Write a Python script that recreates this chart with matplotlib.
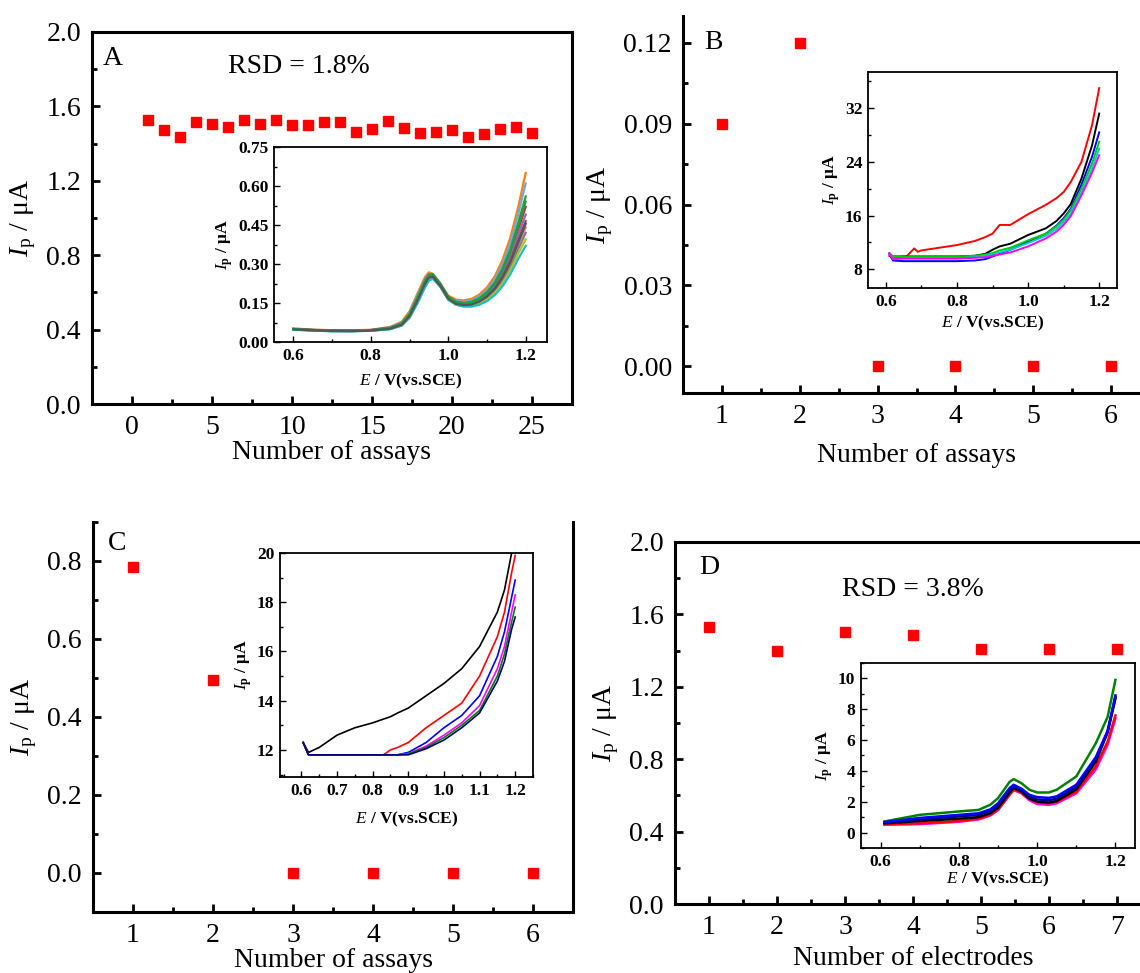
import matplotlib
matplotlib.use("Agg")
import matplotlib.pyplot as plt
from matplotlib.ticker import MultipleLocator, FormatStrFormatter

plt.rcParams["font.family"] = "Liberation Serif"
plt.rcParams["mathtext.fontset"] = "custom"
plt.rcParams["mathtext.rm"] = "Liberation Serif"
plt.rcParams["mathtext.it"] = "Liberation Serif:italic"
plt.rcParams["mathtext.bf"] = "Liberation Serif:bold"

W, H = 1140, 973

# ---- main panels: peak current vs. assay / electrode number ----
assays_a = list(range(1, 26))
ip_a = [1.528, 1.474, 1.436, 1.517, 1.506, 1.490, 1.526, 1.506, 1.528, 1.500,
        1.500, 1.515, 1.515, 1.463, 1.480, 1.520, 1.483, 1.456, 1.463, 1.474,
        1.438, 1.454, 1.480, 1.490, 1.456]

assays_b = [1, 2, 3, 4, 5, 6]
ip_b = [0.090, 0.120, 0.0, 0.0, 0.0, 0.0]

assays_c = [1, 2, 3, 4, 5, 6]
ip_c = [0.785, 0.495, 0.0, 0.0, 0.0, 0.0]

electrodes_d = [1, 2, 3, 4, 5, 6, 7]
ip_d = [1.530, 1.396, 1.503, 1.486, 1.407, 1.410, 1.410]

# ---- inset A: 25 repeated DPV scans (subset of traces) ----
E_a = [0.60, 0.65, 0.70, 0.75, 0.80, 0.85, 0.88, 0.90, 0.92, 0.94, 0.95, 0.96,
       0.98, 1.00, 1.02, 1.04, 1.06, 1.08, 1.10, 1.12, 1.14, 1.16, 1.18, 1.20]
scans_a = [
    [0.052, 0.048, 0.045, 0.045, 0.047, 0.058, 0.078, 0.118, 0.185, 0.250, 0.268, 0.262,
     0.220, 0.178, 0.163, 0.160, 0.166, 0.182, 0.210, 0.252, 0.315, 0.400, 0.515, 0.650],
    [0.051, 0.047, 0.044, 0.044, 0.046, 0.056, 0.075, 0.112, 0.178, 0.243, 0.262, 0.258,
     0.216, 0.172, 0.158, 0.154, 0.160, 0.175, 0.200, 0.240, 0.298, 0.378, 0.488, 0.610],
    [0.050, 0.046, 0.044, 0.044, 0.046, 0.055, 0.072, 0.108, 0.170, 0.236, 0.258, 0.262,
     0.225, 0.175, 0.155, 0.150, 0.155, 0.168, 0.192, 0.228, 0.282, 0.355, 0.455, 0.560],
    [0.050, 0.046, 0.044, 0.043, 0.045, 0.054, 0.070, 0.105, 0.165, 0.232, 0.255, 0.255,
     0.218, 0.170, 0.152, 0.147, 0.151, 0.163, 0.185, 0.220, 0.270, 0.340, 0.430, 0.520],
    [0.049, 0.045, 0.043, 0.043, 0.045, 0.053, 0.069, 0.102, 0.160, 0.226, 0.250, 0.253,
     0.217, 0.168, 0.150, 0.145, 0.148, 0.160, 0.181, 0.213, 0.260, 0.325, 0.410, 0.490],
    [0.049, 0.045, 0.043, 0.043, 0.044, 0.052, 0.067, 0.100, 0.158, 0.222, 0.247, 0.250,
     0.214, 0.166, 0.148, 0.143, 0.146, 0.157, 0.177, 0.207, 0.252, 0.312, 0.390, 0.465],
    [0.048, 0.045, 0.042, 0.042, 0.044, 0.051, 0.066, 0.098, 0.155, 0.220, 0.245, 0.248,
     0.212, 0.164, 0.146, 0.141, 0.143, 0.153, 0.172, 0.200, 0.243, 0.300, 0.372, 0.440],
    [0.048, 0.044, 0.042, 0.042, 0.044, 0.052, 0.068, 0.104, 0.168, 0.240, 0.262, 0.255,
     0.212, 0.165, 0.147, 0.140, 0.141, 0.150, 0.167, 0.193, 0.233, 0.287, 0.355, 0.420],
    [0.048, 0.044, 0.042, 0.042, 0.043, 0.050, 0.064, 0.095, 0.150, 0.214, 0.240, 0.246,
     0.212, 0.163, 0.144, 0.138, 0.139, 0.147, 0.163, 0.188, 0.225, 0.275, 0.338, 0.395],
    [0.047, 0.044, 0.041, 0.041, 0.043, 0.049, 0.063, 0.093, 0.147, 0.210, 0.236, 0.243,
     0.212, 0.163, 0.143, 0.136, 0.136, 0.143, 0.157, 0.180, 0.214, 0.260, 0.318, 0.370],
    [0.050, 0.046, 0.043, 0.043, 0.045, 0.054, 0.071, 0.107, 0.168, 0.234, 0.256, 0.259,
     0.222, 0.172, 0.153, 0.148, 0.152, 0.165, 0.188, 0.224, 0.276, 0.348, 0.442, 0.540],
    [0.049, 0.045, 0.043, 0.042, 0.044, 0.051, 0.066, 0.099, 0.157, 0.224, 0.248, 0.251,
     0.215, 0.166, 0.147, 0.142, 0.144, 0.155, 0.175, 0.204, 0.248, 0.306, 0.380, 0.455],
]
colors_a = ["#ff7f0e", "#6fa8dc", "#2ca02c", "#d62728", "#9467bd", "#8c564b",
            "#e377c2", "#7f7f7f", "#bcbd22", "#17becf", "#1f9e4a", "#555555"]

# ---- inset B: successive scans ----
E_b = [0.61, 0.62, 0.65, 0.66, 0.68, 0.69, 0.70, 0.75, 0.80, 0.85, 0.88, 0.90,
       0.92, 0.95, 1.00, 1.05, 1.08, 1.10, 1.12, 1.15, 1.18, 1.20]
scans_b = {
    "red":     [10.0, 9.7, 9.9, 10.0, 11.1, 10.6, 10.8, 11.2, 11.6, 12.2, 12.8, 13.3,
                14.6, 14.6, 16.2, 17.6, 18.6, 19.5, 21.0, 24.0, 29.5, 35.0],
    "black":   [10.3, 9.9, 9.9, 9.9, 9.9, 9.9, 9.9, 9.9, 9.9, 10.0, 10.3, 10.9,
                11.4, 11.8, 13.1, 14.1, 15.2, 16.3, 17.7, 21.5, 26.5, 31.2],
    "blue":    [10.3, 9.3, 9.2, 9.2, 9.2, 9.2, 9.2, 9.2, 9.2, 9.3, 9.5, 9.9,
                10.3, 10.9, 12.1, 13.3, 14.5, 15.6, 17.0, 20.6, 24.8, 28.4],
    "#00cc00": [10.4, 9.9, 9.9, 9.9, 9.9, 9.9, 9.9, 9.9, 9.9, 10.0, 10.2, 10.4,
                10.8, 11.2, 12.3, 13.3, 14.4, 15.4, 16.8, 20.0, 23.8, 27.0],
    "#00cccc": [10.3, 9.6, 9.6, 9.6, 9.6, 9.6, 9.6, 9.6, 9.6, 9.8, 10.0, 10.2,
                10.5, 10.9, 11.9, 13.0, 14.0, 15.0, 16.3, 19.4, 23.0, 26.0],
    "magenta": [10.4, 9.5, 9.6, 9.6, 9.6, 9.6, 9.6, 9.6, 9.6, 9.7, 9.8, 10.0,
                10.2, 10.5, 11.4, 12.6, 13.6, 14.6, 15.9, 19.0, 22.4, 25.0],
}

# ---- inset C: successive scans ----
E_c = [0.605, 0.62, 0.65, 0.70, 0.75, 0.80, 0.83, 0.85, 0.87, 0.90, 0.95, 1.00,
       1.05, 1.10, 1.15, 1.17, 1.19, 1.20]
scans_c = {
    "black":   [12.3, 11.9, 12.1, 12.6, 12.9, 13.1, 13.25, 13.35, 13.5, 13.7, 14.2, 14.7,
                15.3, 16.2, 17.6, 18.5, 20.0, 20.6],
    "red":     [12.3, 11.8, 11.8, 11.8, 11.8, 11.8, 11.8, 12.0, 12.1, 12.3, 12.9, 13.4,
                13.9, 15.0, 16.6, 17.6, 19.2, 19.9],
    "blue":    [12.3, 11.8, 11.8, 11.8, 11.8, 11.8, 11.8, 11.8, 11.8, 11.9, 12.3, 12.9,
                13.4, 14.2, 15.8, 16.8, 18.2, 18.9],
    "magenta": [12.3, 11.8, 11.8, 11.8, 11.8, 11.8, 11.8, 11.8, 11.8, 11.85, 12.15, 12.6,
                13.1, 13.8, 15.3, 16.2, 17.6, 18.3],
    "#008000": [12.3, 11.8, 11.8, 11.8, 11.8, 11.8, 11.8, 11.8, 11.8, 11.85, 12.1, 12.5,
                13.0, 13.6, 15.0, 15.9, 17.2, 17.8],
    "#000080": [12.3, 11.8, 11.8, 11.8, 11.8, 11.8, 11.8, 11.8, 11.8, 11.8, 12.05, 12.4,
                12.9, 13.5, 14.8, 15.6, 16.9, 17.4],
}

# ---- inset D: one scan per electrode ----
E_d = [0.61, 0.70, 0.80, 0.85, 0.88, 0.90, 0.93, 0.94, 0.96, 0.98, 1.00, 1.03,
       1.05, 1.10, 1.15, 1.18, 1.20]
scans_d = {
    "#008000": [0.72, 1.15, 1.37, 1.47, 1.80, 2.23, 3.30, 3.47, 3.20, 2.78, 2.60, 2.60,
                2.78, 3.64, 5.80, 7.50, 9.90],
    "magenta": [0.50, 0.55, 0.70, 0.85, 1.10, 1.45, 2.45, 2.75, 2.55, 2.10, 1.85, 1.80,
                1.90, 2.55, 4.10, 5.70, 7.40],
    "red":     [0.55, 0.60, 0.75, 0.90, 1.15, 1.50, 2.50, 2.80, 2.60, 2.20, 1.95, 1.90,
                2.00, 2.65, 4.30, 5.90, 7.60],
    "black":   [0.60, 0.75, 0.90, 1.00, 1.25, 1.60, 2.60, 2.90, 2.65, 2.20, 2.00, 1.95,
                2.05, 2.80, 4.60, 6.50, 8.70],
    "#000080": [0.65, 0.85, 1.05, 1.15, 1.40, 1.75, 2.80, 3.00, 2.75, 2.35, 2.15, 2.10,
                2.20, 2.95, 4.75, 6.55, 8.80],
    "blue":    [0.68, 0.95, 1.15, 1.25, 1.50, 1.90, 2.90, 3.10, 2.85, 2.45, 2.30, 2.25,
                2.35, 3.10, 4.90, 6.60, 8.90],
}

MAIN_FS = 20
INSET_FS = 12.5
YLABEL_MAIN = r"$\mathit{I}_\mathrm{p}$ / μA"
YLABEL_INSET = r"$\mathit{I}_\mathbf{p}$ / μA"
XLABEL_INSET = r"$\mathit{E}$ / V(vs.SCE)"


def box(left, top, right, bottom):
    """Pixel box -> figure fraction rect."""
    return [left / W, 1 - bottom / H, (right - left) / W, (bottom - top) / H]


def style_main(ax, xmaj, xmin, ymaj, ymin, yfmt):
    ax.tick_params(which="both", direction="in", labelsize=MAIN_FS,
                   top=False, right=False, width=2, pad=8)
    ax.tick_params(which="major", length=6)
    ax.tick_params(which="minor", length=3.5)
    ax.xaxis.set_major_locator(MultipleLocator(xmaj))
    ax.xaxis.set_minor_locator(MultipleLocator(xmin))
    ax.yaxis.set_major_locator(MultipleLocator(ymaj))
    ax.yaxis.set_minor_locator(MultipleLocator(ymin))
    ax.yaxis.set_major_formatter(FormatStrFormatter(yfmt))
    for s in ax.spines.values():
        s.set_linewidth(2.2)


def style_inset(ax, xmaj, xmin, ymaj, ymin, xfmt, yfmt):
    ax.tick_params(which="both", direction="in", labelsize=INSET_FS,
                   top=False, right=False, width=1, pad=4)
    ax.tick_params(which="major", length=4)
    ax.tick_params(which="minor", length=2)
    for lab in ax.get_xticklabels() + ax.get_yticklabels():
        lab.set_fontweight("bold")
    ax.xaxis.set_major_locator(MultipleLocator(xmaj))
    ax.xaxis.set_minor_locator(MultipleLocator(xmin))
    ax.yaxis.set_major_locator(MultipleLocator(ymaj))
    ax.yaxis.set_minor_locator(MultipleLocator(ymin))
    ax.xaxis.set_major_formatter(FormatStrFormatter(xfmt))
    ax.yaxis.set_major_formatter(FormatStrFormatter(yfmt))
    for s in ax.spines.values():
        s.set_linewidth(1.3)
    ax.set_xlabel(XLABEL_INSET, fontsize=INSET_FS, fontweight="bold", labelpad=3)
    ax.set_ylabel(YLABEL_INSET, fontsize=INSET_FS, fontweight="bold", labelpad=2)


fig = plt.figure(figsize=(W / 100, H / 100), dpi=100)

# Panel A
ax = fig.add_axes(box(92, 32, 572, 404))
ax.plot(assays_a, ip_a, "s", color="red", markersize=6.5)
ax.set_xlim(-2.5, 27.5)
ax.set_ylim(0, 2.0)
style_main(ax, 5, 2.5, 0.4, 0.2, "%.1f")
ax.set_xlabel("Number of assays", fontsize=MAIN_FS, labelpad=0)
ax.set_ylabel(YLABEL_MAIN, fontsize=MAIN_FS, labelpad=6)
ax.text(0.023, 0.93, "A", transform=ax.transAxes, fontsize=MAIN_FS, va="center")
ax.text(0.284, 0.906, "RSD = 1.8%", transform=ax.transAxes, fontsize=MAIN_FS, va="center")

ins = fig.add_axes(box(274, 147, 547, 342))
for cur, col in zip(scans_a, colors_a):
    ins.plot(E_a, cur, color=col, lw=1.6)
ins.set_xlim(0.55, 1.255)
ins.set_ylim(0, 0.75)
style_inset(ins, 0.2, 0.1, 0.15, 0.075, "%.1f", "%.2f")
ins.xaxis.labelpad = 6

# Panel B
ax = fig.add_axes(box(683, 16, 1150, 393))
ax.plot(assays_b, ip_b, "s", color="red", markersize=6.5)
ax.set_xlim(0.5, 6.5)
ax.set_ylim(-0.01, 0.13)
ax.spines["top"].set_visible(False)
ax.spines["right"].set_visible(False)
style_main(ax, 1, 0.5, 0.03, 0.015, "%.2f")
ax.set_xlabel("Number of assays", fontsize=MAIN_FS, labelpad=10)
ax.set_ylabel(YLABEL_MAIN, fontsize=MAIN_FS, labelpad=6)
ax.text(0.045, 0.93, "B", transform=ax.transAxes, fontsize=MAIN_FS, va="center")

ins = fig.add_axes(box(868, 72, 1117, 288))
for col, cur in scans_b.items():
    ins.plot(E_b, cur, color=col, lw=1.4)
ins.set_xlim(0.55, 1.25)
ins.set_ylim(5.2, 37.4)
style_inset(ins, 0.2, 0.1, 8, 4, "%.1f", "%d")

# Panel C
ax = fig.add_axes(box(93, 522, 573, 912))
ax.plot(assays_c, ip_c, "s", color="red", markersize=6.5)
ax.set_xlim(0.5, 6.5)
ax.set_ylim(-0.1, 0.9)
ax.spines["top"].set_visible(False)
style_main(ax, 1, 0.5, 0.2, 0.1, "%.1f")
ax.set_xlabel("Number of assays", fontsize=MAIN_FS, labelpad=0)
ax.set_ylabel(YLABEL_MAIN, fontsize=MAIN_FS, labelpad=6)
ax.text(0.03, 0.945, "C", transform=ax.transAxes, fontsize=MAIN_FS, va="center")

ins = fig.add_axes(box(280, 553, 533, 777))
for col, cur in scans_c.items():
    ins.plot(E_c, cur, color=col, lw=1.2)
ins.set_xlim(0.54, 1.25)
ins.set_ylim(10.9, 20)
style_inset(ins, 0.1, 0.05, 2, 1, "%.1f", "%d")
ins.xaxis.labelpad = 8

# Panel D
ax = fig.add_axes(box(675, 542, 1151, 904))
ax.plot(electrodes_d, ip_d, "s", color="red", markersize=6.5)
ax.set_xlim(0.5, 7.5)
ax.set_ylim(0, 2.0)
ax.spines["right"].set_visible(False)
style_main(ax, 1, 0.5, 0.4, 0.2, "%.1f")
ax.set_xlabel("Number of electrodes", fontsize=MAIN_FS, labelpad=4)
ax.set_ylabel(YLABEL_MAIN, fontsize=MAIN_FS, labelpad=6)
ax.text(0.05, 0.93, "D", transform=ax.transAxes, fontsize=MAIN_FS, va="center")
ax.text(0.35, 0.87, "RSD = 3.8%", transform=ax.transAxes, fontsize=MAIN_FS, va="center")

ins = fig.add_axes(box(861, 663, 1135, 848))
for col, cur in scans_d.items():
    ins.plot(E_d, cur, color=col, lw=1.8)
ins.set_xlim(0.55, 1.25)
ins.set_ylim(-1, 11)
style_inset(ins, 0.2, 0.1, 2, 1, "%.1f", "%d")
ins.xaxis.labelpad = 0

fig.savefig("out.png", dpi=100)
